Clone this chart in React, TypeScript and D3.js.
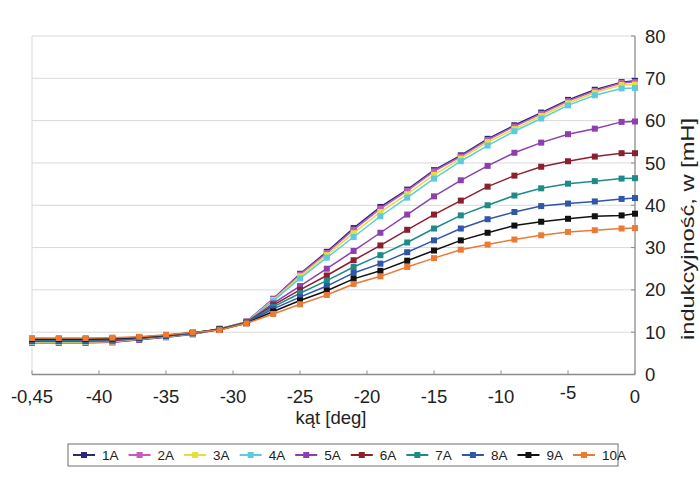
import React from 'react';
import * as d3 from 'd3';

// kąt [deg] -- measurement points
const ANGLES = [-45, -43, -41, -39, -37, -35, -33, -31, -29, -27, -25, -23, -21, -19, -17, -15, -13, -11, -9, -7, -5, -3, -1, 0];

const SERIES_NAMES = ['1A', '2A', '3A', '4A', '5A', '6A', '7A', '8A', '9A', '10A'];
const SERIES_COLORS = ['#2b2877', '#c45bbf', '#e6de3c', '#5ccbe0', '#8d3fae', '#8c1f2e', '#1d8c88', '#2f56a8', '#111111', '#ec7a35'];

const L1A = [7.5, 7.5, 7.5, 7.6, 8.2, 8.8, 9.5, 10.7, 12.5, 17.9, 23.8, 29.0, 34.6, 39.6, 43.7, 48.3, 51.8, 55.7, 58.9, 61.9, 64.9, 67.3, 69.1, 69.4];
const L2A = [7.6, 7.6, 7.6, 7.7, 8.3, 8.9, 9.6, 10.7, 12.5, 17.8, 23.6, 28.7, 34.2, 39.2, 43.4, 48.0, 51.5, 55.4, 58.6, 61.6, 64.6, 67.0, 68.9, 69.1];
const L3A = [7.7, 7.7, 7.7, 7.8, 8.4, 9.0, 9.6, 10.8, 12.4, 17.6, 23.2, 28.2, 33.4, 38.4, 42.6, 47.2, 51.0, 54.9, 58.0, 61.1, 64.1, 66.6, 68.4, 68.5];
const L4A = [7.8, 7.8, 7.8, 7.9, 8.5, 9.0, 9.7, 10.8, 12.4, 17.4, 22.7, 27.6, 32.5, 37.4, 41.8, 46.3, 50.4, 54.1, 57.5, 60.5, 63.6, 66.0, 67.6, 67.7];
const L5A = [7.9, 7.9, 7.9, 8.0, 8.5, 9.1, 9.7, 10.8, 12.3, 16.8, 20.9, 25.0, 29.2, 33.5, 37.8, 42.1, 45.9, 49.3, 52.4, 54.8, 56.8, 58.1, 59.7, 59.8];
const L6A = [8.0, 8.0, 8.0, 8.1, 8.6, 9.1, 9.8, 10.7, 12.3, 16.4, 20.0, 23.4, 27.0, 30.5, 34.2, 37.8, 41.1, 44.4, 47.0, 49.1, 50.4, 51.5, 52.3, 52.3];
const L7A = [8.1, 8.1, 8.1, 8.2, 8.6, 9.2, 9.8, 10.7, 12.2, 16.0, 19.2, 22.2, 25.4, 28.2, 31.2, 34.5, 37.6, 40.0, 42.3, 44.0, 45.1, 45.7, 46.3, 46.4];
const L8A = [8.2, 8.2, 8.2, 8.3, 8.7, 9.2, 9.8, 10.6, 12.2, 15.5, 18.3, 20.9, 24.0, 26.2, 28.9, 31.7, 34.5, 36.7, 38.4, 39.8, 40.4, 40.9, 41.5, 41.7];
const L9A = [8.4, 8.4, 8.4, 8.5, 8.8, 9.3, 9.9, 10.6, 12.1, 14.9, 17.5, 19.8, 22.6, 24.5, 26.9, 29.3, 31.7, 33.5, 35.2, 36.1, 36.8, 37.4, 37.6, 38.0];
const L10A = [8.6, 8.6, 8.6, 8.7, 8.9, 9.4, 9.9, 10.5, 12.1, 14.3, 16.6, 18.8, 21.4, 23.2, 25.4, 27.5, 29.5, 30.7, 31.9, 32.9, 33.7, 34.1, 34.5, 34.6];

const SERIES = [L1A, L2A, L3A, L4A, L5A, L6A, L7A, L8A, L9A, L10A];

const X_TICKS = [-45, -40, -35, -30, -25, -20, -15, -10, -5, 0];
const X_TICK_LABELS = ['-0,45', '-40', '-35', '-30', '-25', '-20', '-15', '-10', '-5', '0'];
const Y_TICKS = [0, 10, 20, 30, 40, 50, 60, 70, 80];

const FONT = '"Liberation Sans", Arial, sans-serif';

export default function App() {
  const left = 32, right = 635, top = 36, bottom = 374.5;
  const x = d3.scaleLinear().domain([-45, 0]).range([left, right]);
  const y = d3.scaleLinear().domain([0, 80]).range([bottom, top]);
  const line = d3.line<number>().x((_, i) => x(ANGLES[i])).y(d => y(d));

  const legendX = d3.scalePoint<string>().domain(SERIES_NAMES).range([84, 584]);

  return (
    <svg width={700} height={486} style={{ position: 'absolute', left: 0, top: 0, background: '#fff' }} fontFamily={FONT}>
      {/* grid */}
      {Y_TICKS.filter(t => t > 0).map(t => (
        <line key={t} x1={left} x2={right} y1={y(t)} y2={y(t)} stroke="#d9d9d9" strokeWidth={1} />
      ))}
      <line x1={left} x2={left} y1={top} y2={bottom} stroke="#d9d9d9" />

      {/* axes */}
      <line x1={right} x2={right} y1={top} y2={bottom} stroke="#8c8c8c" strokeWidth={1.3} />
      <line x1={left} x2={right} y1={bottom} y2={bottom} stroke="#8c8c8c" strokeWidth={1.3} />
      {X_TICKS.map((t, i) => (
        <g key={t}>
          <line x1={x(t)} x2={x(t)} y1={bottom - 4} y2={bottom} stroke="#8c8c8c" />
          <text x={x(t)} y={t === -5 ? 399 : 402.5} textAnchor="middle" fontSize={18.5} fill="#222">{X_TICK_LABELS[i]}</text>
        </g>
      ))}
      {Y_TICKS.map(t => (
        <g key={t}>
          <line x1={right - 4} x2={right} y1={y(t)} y2={y(t)} stroke="#8c8c8c" />
          <text x={right + 10} y={y(t) + 6.6} fontSize={18.5} fill="#222">{t}</text>
        </g>
      ))}
      <text x={331} y={424} textAnchor="middle" fontSize={18.5} fill="#222">kąt [deg]</text>
      <text transform="translate(694,229) rotate(-90)" textAnchor="middle" fontSize={18}
        textLength={222} lengthAdjust="spacingAndGlyphs" fill="#222">indukcyjność, w [mH]</text>

      {/* series */}
      {SERIES.map((s, k) => (
        <g key={SERIES_NAMES[k]}>
          <path d={line(s) || ''} fill="none" stroke={SERIES_COLORS[k]} strokeWidth={1.5} />
          {s.map((v, i) => (
            <rect key={i} x={x(ANGLES[i]) - 3} y={y(v) - 3} width={6} height={6} fill={SERIES_COLORS[k]} />
          ))}
        </g>
      ))}

      {/* legend */}
      <rect x={68} y={444} width={550} height={22} fill="#fff" stroke="#6f6f6f" />
      {SERIES_NAMES.map((n, k) => {
        const cx = legendX(n) || 0;
        return (
          <g key={n}>
            <line x1={cx - 11} x2={cx + 11} y1={455} y2={455} stroke={SERIES_COLORS[k]} strokeWidth={2} />
            <rect x={cx - 3} y={452} width={6} height={6} fill={SERIES_COLORS[k]} />
            <text x={cx + 18} y={460} fontSize={13.5} fill="#222">{n}</text>
          </g>
        );
      })}
    </svg>
  );
}
